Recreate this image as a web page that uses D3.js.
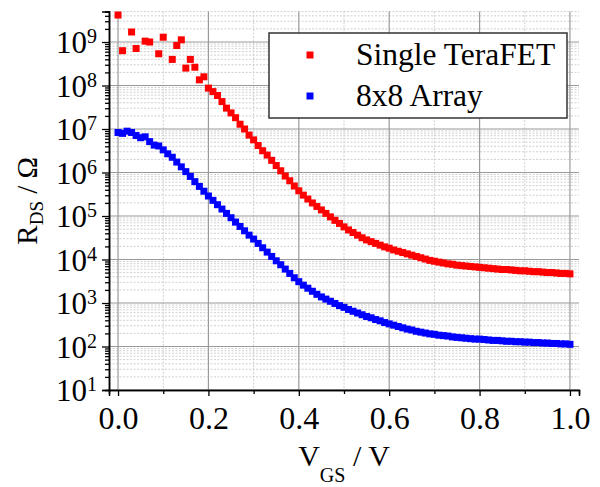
<!DOCTYPE html>
<html>
<head>
<meta charset="utf-8">
<script src="https://cdn.jsdelivr.net/npm/d3@7"></script>
<style>
  body { margin: 0; background: #fff; }
  text { font-family: "Liberation Serif", "Times New Roman", serif; fill: #000; }
</style>
</head>
<body>
<div id="chart"></div>
<script>
// 1- Data ------------------------------------------------------------------------------------
const vgs = [
  0.00,0.01,0.02,0.03,0.04,0.05,0.06,0.07,0.08,0.09,
  0.10,0.11,0.12,0.13,0.14,0.15,0.16,0.17,0.18,0.19,
  0.20,0.21,0.22,0.23,0.24,0.25,0.26,0.27,0.28,0.29,
  0.30,0.31,0.32,0.33,0.34,0.35,0.36,0.37,0.38,0.39,
  0.40,0.41,0.42,0.43,0.44,0.45,0.46,0.47,0.48,0.49,
  0.50,0.51,0.52,0.53,0.54,0.55,0.56,0.57,0.58,0.59,
  0.60,0.61,0.62,0.63,0.64,0.65,0.66,0.67,0.68,0.69,
  0.70,0.71,0.72,0.73,0.74,0.75,0.76,0.77,0.78,0.79,
  0.80,0.81,0.82,0.83,0.84,0.85,0.86,0.87,0.88,0.89,
  0.90,0.91,0.92,0.93,0.94,0.95,0.96,0.97,0.98,0.99,
  1.00
];

// log10(R_DS / Ohm), null = no point drawn
const singleLogR = [
  9.62,8.80,null,9.23,8.85,null,9.02,9.00,null,8.73,
  9.11,null,8.60,8.92,9.05,8.40,8.60,8.42,8.13,8.20,
  7.94,7.86,7.77,7.63,7.48,7.37,7.26,7.11,7.00,6.86,
  6.75,6.62,6.50,6.40,6.28,6.16,6.04,5.92,5.81,5.69,
  5.58,5.48,5.39,5.30,5.22,5.14,5.06,4.98,4.90,4.83,
  4.75,4.68,4.62,4.56,4.50,4.45,4.41,4.37,4.33,4.29,
  4.26,4.22,4.19,4.16,4.13,4.10,4.07,4.04,4.01,3.98,
  3.96,3.94,3.92,3.90,3.89,3.87,3.86,3.85,3.84,3.83,
  3.82,3.81,3.80,3.79,3.78,3.77,3.77,3.76,3.75,3.74,
  3.74,3.73,3.72,3.72,3.71,3.70,3.70,3.69,3.68,3.68,
  3.67
];

const arrayLogR = [
  6.92,6.90,6.95,6.92,6.85,6.80,6.82,6.71,6.63,6.61,
  6.52,6.43,6.35,6.24,6.13,6.02,5.91,5.79,5.68,5.57,
  5.46,5.36,5.26,5.16,5.06,4.96,4.86,4.76,4.66,4.56,
  4.47,4.37,4.27,4.17,4.07,3.97,3.88,3.78,3.68,3.58,
  3.49,3.41,3.34,3.27,3.20,3.14,3.09,3.04,2.99,2.94,
  2.90,2.85,2.81,2.77,2.73,2.69,2.66,2.62,2.59,2.55,
  2.52,2.49,2.46,2.43,2.40,2.38,2.35,2.33,2.31,2.29,
  2.28,2.26,2.25,2.24,2.22,2.21,2.20,2.19,2.18,2.17,
  2.17,2.16,2.15,2.14,2.14,2.13,2.12,2.12,2.11,2.11,
  2.10,2.10,2.09,2.09,2.08,2.08,2.07,2.07,2.06,2.06,
  2.05
];

const seriesNames = ["Single TeraFET", "8x8 Array"];
const seriesColors = ["#ff0000", "#0000ff"];
const xTicks = [0.0, 0.2, 0.4, 0.6, 0.8, 1.0];
const xMinorTicks = [0.1, 0.3, 0.5, 0.7, 0.9];
const yExponents = [1, 2, 3, 4, 5, 6, 7, 8, 9];

// 2- Set up the chart ------------------------------------------------------------------------
const svgWidth = 600;
const svgHeight = 487;
const plot = { left: 109, right: 579, top: 11.6, bottom: 390 };

const svg = d3.select("#chart")
  .append("svg")
  .attr("width", svgWidth)
  .attr("height", svgHeight);

const xScale = d3.scaleLinear()
  .domain([-0.02, 1.02])
  .range([plot.left, plot.right]);

const yScale = d3.scaleLog()
  .domain([10, 5e9])
  .range([plot.bottom, plot.top]);

// minor log positions 2..9 x 10^k
const yMinor = [];
for (let k = 1; k <= 9; k++) {
  for (let m = 2; m <= 9; m++) {
    const v = m * Math.pow(10, k);
    if (v <= 5e9) yMinor.push(v);
  }
}
const yMajor = yExponents.map(e => Math.pow(10, e));

// 3- Grid ------------------------------------------------------------------------------------
const grid = svg.append("g");

grid.selectAll(".ymin").data(yMinor).enter().append("line")
  .attr("x1", plot.left).attr("x2", plot.right)
  .attr("y1", d => yScale(d)).attr("y2", d => yScale(d))
  .attr("stroke", "#c4c4c4").attr("stroke-width", 0.8)
  .attr("stroke-dasharray", "2,1.5");

grid.selectAll(".xmin").data(xMinorTicks).enter().append("line")
  .attr("x1", d => xScale(d)).attr("x2", d => xScale(d))
  .attr("y1", plot.top).attr("y2", plot.bottom)
  .attr("stroke", "#c4c4c4").attr("stroke-width", 0.8)
  .attr("stroke-dasharray", "2,1.5");

grid.selectAll(".ymaj").data(yMajor).enter().append("line")
  .attr("x1", plot.left).attr("x2", plot.right)
  .attr("y1", d => yScale(d)).attr("y2", d => yScale(d))
  .attr("stroke", "#9a9a9a").attr("stroke-width", 1.2);

grid.selectAll(".xmaj").data(xTicks).enter().append("line")
  .attr("x1", d => xScale(d)).attr("x2", d => xScale(d))
  .attr("y1", plot.top).attr("y2", plot.bottom)
  .attr("stroke", "#9a9a9a").attr("stroke-width", 1.2);

// 4- Axes ------------------------------------------------------------------------------------
const bottomAxis = d3.axisBottom(xScale)
  .tickValues(xTicks)
  .tickSize(6)
  .tickFormat(d3.format(".1f"));

const bottomMinor = d3.axisBottom(xScale)
  .tickValues(xMinorTicks)
  .tickSize(4)
  .tickFormat("");

const leftAxis = d3.axisLeft(yScale)
  .tickValues(yMajor)
  .tickSize(7)
  .tickFormat("");

const leftMinor = d3.axisLeft(yScale)
  .tickValues(yMinor)
  .tickSize(4)
  .tickFormat("");

const xAxisG = svg.append("g")
  .attr("transform", `translate(0,${plot.bottom})`)
  .call(bottomAxis);
svg.append("g")
  .attr("transform", `translate(0,${plot.bottom})`)
  .call(bottomMinor);

svg.append("g")
  .attr("transform", `translate(${plot.left},0)`)
  .call(leftMinor);
svg.append("g")
  .attr("transform", `translate(${plot.left},0)`)
  .call(leftAxis);

svg.selectAll(".domain").attr("stroke", "#000").attr("stroke-width", 1.5);
svg.selectAll(".tick line").attr("stroke", "#000").attr("stroke-width", 1.3);

xAxisG.selectAll(".tick text")
  .attr("font-family", null)
  .attr("font-size", "32px")
  .attr("y", 9)
  .attr("dy", "0.95em");

// y tick labels as 10^n
const yLabels = svg.append("g")
  .selectAll("text")
  .data(yExponents)
  .enter()
  .append("text")
  .attr("x", 97)
  .attr("y", d => yScale(Math.pow(10, d)) + 11)
  .attr("text-anchor", "end")
  .attr("font-size", "31px");
yLabels.append("tspan").text("10");
yLabels.append("tspan")
  .attr("font-size", "20px")
  .attr("dy", -10)
  .text(d => d);

// 5- Points ----------------------------------------------------------------------------------
const markerSize = 7;
const seriesLogR = [singleLogR, arrayLogR];

seriesLogR.forEach((vals, i) => {
  const pts = vgs.map((v, j) => ({ v: v, r: vals[j] === null ? null : Math.pow(10, vals[j]) }))
    .filter(d => d.r !== null);
  svg.append("g")
    .selectAll("rect")
    .data(pts)
    .enter()
    .append("rect")
    .attr("x", d => xScale(d.v) - markerSize / 2)
    .attr("y", d => yScale(d.r) - markerSize / 2)
    .attr("width", markerSize)
    .attr("height", markerSize)
    .attr("fill", seriesColors[i]);
});

// 6- Legend ----------------------------------------------------------------------------------
const legend = svg.append("g");
legend.append("rect")
  .attr("x", 269).attr("y", 33)
  .attr("width", 298).attr("height", 85)
  .attr("fill", "#fff")
  .attr("stroke", "#333")
  .attr("stroke-width", 1.5);

seriesNames.forEach((name, i) => {
  const cy = 55 + i * 41;
  legend.append("rect")
    .attr("x", 310 - 3.5).attr("y", cy - 3.5)
    .attr("width", 7).attr("height", 7)
    .attr("fill", seriesColors[i]);
  legend.append("text")
    .attr("x", 356)
    .attr("y", cy + 10)
    .attr("font-size", "31.5px")
    .text(name);
});

// 7- Axis titles -----------------------------------------------------------------------------
const xTitle = svg.append("text")
  .attr("x", (plot.left + plot.right) / 2)
  .attr("y", 466)
  .attr("text-anchor", "middle")
  .attr("font-size", "30px");
xTitle.append("tspan").text("V");
xTitle.append("tspan").attr("font-size", "20px").attr("dy", 16).text("GS");
xTitle.append("tspan").attr("dy", -16).text(" / V");

const yTitle = svg.append("text")
  .attr("transform", `translate(37,${(plot.top + plot.bottom) / 2}) rotate(-90)`)
  .attr("text-anchor", "middle")
  .attr("font-size", "29px");
yTitle.append("tspan").text("R");
yTitle.append("tspan").attr("font-size", "19px").attr("dy", 6).text("DS");
yTitle.append("tspan").attr("dy", -6).text(" / Ω");
</script>
</body>
</html>
